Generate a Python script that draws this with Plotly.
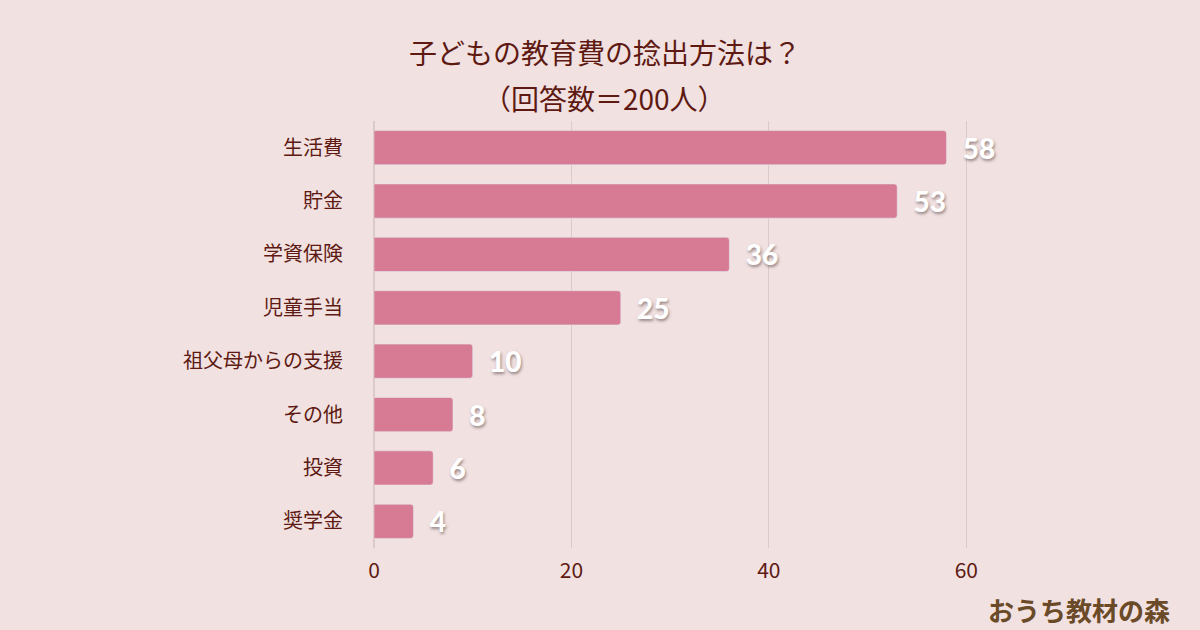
import plotly.graph_objects as go

# survey data (answers out of 200)
categories = ["生活費", "貯金", "学資保険", "児童手当", "祖父母からの支援", "その他", "投資", "奨学金"]
counts = [58, 53, 36, 25, 10, 8, 6, 4]
x_ticks = [0, 20, 40, 60]

bg = "#f1e1e1"
brown = "#5e1a12"

fig = go.Figure(go.Bar(
    x=counts,
    y=categories,
    orientation="h",
    marker_color="#d67b93",
    text=counts,
    texttemplate="  %{text}",
    textposition="outside",
    textfont=dict(family="Lato", size=28, color="white", weight=900,
                  shadow="1px 2px 3px rgba(80,60,60,0.55)"),
    cliponaxis=False,
    hoverinfo="skip",
))

fig.update_layout(
    width=1200, height=630,
    paper_bgcolor=bg, plot_bgcolor=bg,
    margin=dict(l=374, r=135, t=121, b=82),
    bargap=0.36,
    barcornerradius=3,
    showlegend=False,
    font=dict(family="Noto Sans CJK JP", color=brown),
    xaxis=dict(
        range=[0, 70],
        tickvals=x_ticks,
        tickfont=dict(size=21, color=brown),
        showgrid=True, gridcolor="#dacaca", gridwidth=1,
        zeroline=True, zerolinecolor="#dacaca",
        ticks="", ticklabelstandoff=8,
        fixedrange=True,
    ),
    yaxis=dict(
        autorange="reversed",
        tickfont=dict(size=20, color=brown),
        ticks="", ticklabelstandoff=30,
        showgrid=False,
        fixedrange=True,
    ),
)

# title as two lines, wider spacing than the built-in title
fig.add_annotation(text="子どもの教育費の捻出方法は？", xref="paper", yref="paper",
                   x=0.334, y=1.162, xanchor="center", yanchor="middle", showarrow=False,
                   font=dict(size=28, color=brown))
fig.add_annotation(text="（回答数＝200人）", xref="paper", yref="paper",
                   x=0.334, y=1.054, xanchor="center", yanchor="middle", showarrow=False,
                   font=dict(size=28, color=brown))

# site watermark
fig.add_annotation(text="おうち教材の森", xref="paper", yref="paper",
                   x=1.155, y=-0.145, xanchor="right", yanchor="middle", showarrow=False,
                   font=dict(size=26, color="#6b4a28", family="Noto Sans CJK JP", weight="bold"))

fig.write_html("out.html", config={"displayModeBar": False},
               post_script="document.body.style.margin='0';document.body.style.background='%s';" % bg)
